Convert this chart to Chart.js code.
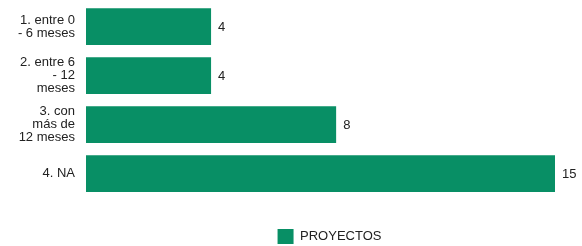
<!DOCTYPE html>
<html><head><meta charset="utf-8">
<script src="https://cdn.jsdelivr.net/npm/chart.js@4"></script>
<style>html,body{margin:0;padding:0;background:#fff}#wrap{width:582px;height:246px}</style>
</head><body><div id="wrap"><canvas id="c"></canvas></div>
<script>
const categories = [["1. entre 0","- 6 meses"],["2. entre 6","- 12","meses"],["3. con","más de","12 meses"],["4. NA"]];
const seriesName = "PROYECTOS";
const values = [4, 4, 8, 15];

const FONT = '"Liberation Sans", Arial, sans-serif';

const valueLabels = {
  id: 'valueLabels',
  afterDatasetsDraw(chart) {
    const ctx = chart.ctx;
    const meta = chart.getDatasetMeta(0);
    ctx.save();
    ctx.font = '13px ' + FONT;
    ctx.fillStyle = '#222';
    ctx.textBaseline = 'middle';
    ctx.textAlign = 'left';
    meta.data.forEach((bar, i) => {
      ctx.fillText(String(values[i]), bar.x + 7, bar.y + 1);
    });
    ctx.restore();
  }
};

const legendShift = {
  id: 'legendShift',
  afterLayout(chart) {
    const lg = chart.legend;
    if (!lg) return;
    const dx = 52, dy = 8;
    lg.left += dx; lg.right += dx;
    lg.top += dy; lg.bottom += dy;
  }
};

new Chart(document.getElementById('c'), {
  type: 'bar',
  data: {
    labels: categories,
    datasets: [{
      label: seriesName,
      data: values,
      backgroundColor: '#088f65',
      borderWidth: 0,
      barPercentage: 0.75,
      categoryPercentage: 1.0
    }]
  },
  options: {
    indexAxis: 'y',
    responsive: true,
    maintainAspectRatio: false,
    animation: false,
    layout: { padding: { top: 2, right: 27, bottom: 0, left: 0 } },
    scales: {
      x: {
        display: true, min: 0, max: 15,
        grid: { display: false }, border: { display: false },
        ticks: { display: false },
        afterFit(s) { s.height = 9; s.paddingLeft = 0; s.paddingRight = 0; }
      },
      y: {
        grid: { display: false },
        border: { display: false },
        afterFit(s) { s.width = 86; s.paddingTop = 0; s.paddingBottom = 0; },
        ticks: {
          padding: 3,
          color: '#222',
          font: { family: FONT, size: 13, lineHeight: 1.0 }
        }
      }
    },
    plugins: {
      legend: {
        position: 'bottom',
        labels: {
          boxWidth: 16,
          boxHeight: 15,
          padding: 14,
          color: '#222',
          font: { family: FONT, size: 13 }
        }
      },
      tooltip: { enabled: false }
    }
  },
  plugins: [valueLabels, legendShift]
});
</script></body></html>
